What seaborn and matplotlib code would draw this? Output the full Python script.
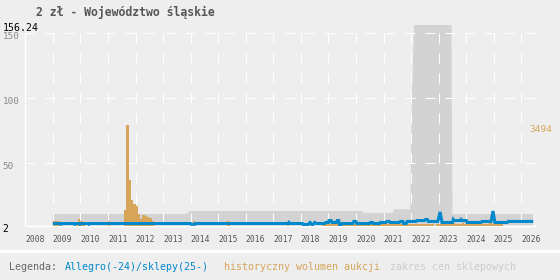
import numpy as np
import pandas as pd
import matplotlib
matplotlib.use("Agg")
import matplotlib.pyplot as plt
from matplotlib import transforms
from matplotlib.patches import Rectangle
import seaborn as sns

# ---------------- data ----------------
title = "2 zł - Województwo śląskie"
year_ticks = list(range(2008, 2027))
y_ticks = [2, 50, 100, 150]
y_max = 156.24
vol_max = 3494

# shop price range (zakres cen sklepowych): decimal year, low, high
gray_x = [2008.98, 2013.83, 2013.97, 2020.24, 2020.27, 2021.35, 2021.37, 2021.97,
          2022.00, 2022.04, 2022.07, 2022.10, 2022.13, 2023.44, 2023.47, 2023.50, 2026.42]
gray_lo = [2.0, 2.0, 2.0, 2.0, 2.0, 2.0, 2.0, 2.0,
           2.0, 2.0, 2.0, 2.0, 2.0, 2.0, 2.0, 2.0, 2.0]
gray_hi = [10.9, 10.9, 13.2, 13.2, 11.8, 11.8, 14.6, 14.6,
           68.0, 107.0, 133.0, 150.0, 400.0, 400.0, 120.0, 10.9, 10.9]

# Allegro/sklepy price line
blue_x = [2009.00, 2009.27, 2009.30, 2009.33, 2009.76, 2009.79, 2009.82, 2009.96, 2009.99,
          2010.02, 2010.28, 2010.31, 2010.34, 2013.99, 2014.02, 2014.15, 2014.18, 2017.53,
          2017.56, 2017.59, 2018.05, 2018.08, 2018.26, 2018.33, 2018.40, 2018.44, 2018.50,
          2018.57, 2018.87, 2018.90, 2019.00, 2019.02, 2019.10, 2019.13, 2019.28, 2019.32,
          2019.37, 2019.40, 2019.46, 2019.49, 2019.88, 2019.92, 2019.99, 2020.03, 2020.49,
          2020.52, 2020.60, 2020.63, 2020.85, 2020.88, 2021.08, 2021.12, 2021.20, 2021.24,
          2021.57, 2021.61, 2021.70, 2021.73, 2021.82, 2021.86, 2022.18, 2022.21, 2022.48,
          2022.52, 2022.59, 2022.62, 2022.97, 2023.05, 2023.12, 2023.50, 2023.53, 2023.56,
          2023.78, 2023.81, 2023.84, 2024.00, 2024.03, 2024.54, 2024.57, 2024.90, 2024.97,
          2025.04, 2025.49, 2025.52, 2026.43]
blue_y = [3.6, 3.6, 3.0, 3.6, 3.6, 3.0, 3.6, 3.6, 3.0,
          3.6, 3.6, 3.0, 3.6, 3.6, 3.0, 3.0, 3.6, 3.6,
          4.4, 3.6, 3.6, 2.8, 2.8, 4.4, 2.8, 2.8, 4.4,
          3.6, 3.6, 4.4, 4.4, 5.9, 5.9, 4.4, 4.4, 5.9,
          5.9, 2.8, 2.8, 3.6, 3.6, 5.2, 5.2, 3.6, 3.6,
          4.4, 4.4, 3.6, 3.6, 4.4, 4.4, 5.2, 5.2, 4.4,
          4.4, 5.2, 5.2, 3.6, 3.6, 5.2, 5.2, 5.9, 5.9,
          6.7, 6.7, 5.2, 5.2, 12.5, 4.4, 4.4, 6.7, 5.9,
          5.9, 6.7, 5.9, 5.9, 4.4, 4.4, 5.2, 5.2, 13.2,
          4.4, 4.4, 5.2, 5.2]

# historical auction volume (monthly)
vol_months = ["2009-01", "2009-02", "2009-03", "2009-11", "2009-12", "2010-01", "2010-02",
              "2011-01", "2011-08", "2011-09", "2011-10", "2011-11", "2011-12", "2012-01",
              "2012-02", "2012-03", "2012-04", "2012-05", "2012-06", "2012-07", "2012-08",
              "2014-02", "2015-05", "2017-07", "2018-04",
              "2018-10", "2018-11", "2018-12", "2019-01", "2019-02", "2019-03", "2019-04",
              "2019-05", "2019-06", "2019-07", "2019-08", "2019-09", "2019-10", "2019-11",
              "2019-12", "2020-01", "2020-02", "2020-03", "2020-04", "2020-05", "2020-06",
              "2020-07", "2020-08", "2020-09", "2020-10", "2020-11", "2020-12", "2021-01",
              "2021-02", "2021-03", "2021-04", "2021-05", "2021-06", "2021-07", "2021-08",
              "2021-09", "2021-10", "2021-11", "2021-12", "2022-01", "2022-02", "2022-03",
              "2022-04", "2022-05", "2022-06", "2022-07", "2022-08", "2022-09", "2022-10",
              "2022-12", "2023-01", "2023-02", "2023-03", "2023-04", "2023-05", "2023-06",
              "2023-07", "2023-08", "2023-09", "2023-10", "2023-11", "2023-12", "2024-01",
              "2024-02", "2024-03", "2024-04", "2024-05", "2024-06", "2024-07", "2024-08",
              "2024-09", "2024-10", "2024-11", "2024-12", "2025-01", "2025-02", "2025-03",
              "2025-04"]
vol_values = [170, 170, 165, 120, 230, 160, 100,
              170, 542, 3494, 1584, 889, 750, 681,
              403, 229, 368, 333, 299, 280, 160,
              170, 160, 60, 60,
              55, 55, 60, 55, 55, 60, 55,
              55, 55, 60, 55, 55, 55, 60,
              55, 55, 55, 60, 55, 55, 55,
              60, 55, 55, 55, 60, 55, 55,
              55, 60, 55, 55, 55, 60, 55,
              55, 55, 60, 55, 55, 55, 60,
              55, 55, 55, 60, 55, 55, 55,
              70, 70, 70, 75, 70, 70, 70,
              75, 70, 70, 70, 75, 70, 70,
              70, 75, 70, 70, 70, 75, 70,
              70, 70, 75, 70, 70, 70, 75,
              70]

legend_items = [("Legenda:", "#666666"),
                ("Allegro(-24)/sklepy(25-)", "#0088cc"),
                ("historyczny wolumen aukcji", "#d6a55a"),
                ("zakres cen sklepowych", "#cccccc")]

# ---------------- style ----------------
BG = "#eeeeee"
BLUE = "#0088cc"
ORANGE = "#d6a55a"
GRAY = "#d3d3d3"
plt.rcParams["font.family"] = ["DejaVu Sans Mono", "DejaVu Sans"]

W, H = 560, 280
L, R, T, B = 25.3, 536.0, 25.2, 225.6
x_left = 2008.0
x_right = 2008.0 + (R - L) / 27.56

fig = plt.figure(figsize=(W / 100, H / 100), dpi=100, facecolor=BG)
ax = fig.add_axes([L / W, 1 - B / H, (R - L) / W, (B - T) / H])
ax.set_xlim(x_left, x_right)
ax.set_ylim(y_ticks[0], y_max)
ax.set_axis_off()

# price range band
ax.fill_between(gray_x, gray_lo, gray_hi, color=GRAY, linewidth=0, zorder=1)

# grid
dash = (0, (10, 10))
ax.hlines(y_ticks[1:], x_left, x_right, colors="white", linewidth=0.72,
          linestyles=[dash], zorder=2)
ax.vlines(year_ticks[1:], y_ticks[-1], y_ticks[0], colors="white", linewidth=0.72,
          linestyles=[dash], zorder=2)
ax.hlines(y_ticks[0], x_left, x_right, colors="white", linewidth=1.0, zorder=2, clip_on=False)
ax.vlines(x_left, y_ticks[0], y_ticks[-1], colors="white", linewidth=1.0, zorder=2, clip_on=False)

# volume bars
ax_vol = ax.twinx()
ax_vol.set_axis_off()
vol_df = pd.DataFrame({
    "t": [int(s[:4]) + (int(s[5:]) - 0.5) / 12 for s in vol_months],
    "vol": vol_values,
})
edges = [m / 12 for m in range(2009 * 12, 2025 * 12 + 5)]
sns.histplot(data=vol_df, x="t", weights="vol", bins=edges, ax=ax_vol, color=ORANGE,
             alpha=1, linewidth=0, stat="count")
ax_vol.set_ylim(0, vol_max * (B - T) / 100.6)
ax_vol.set_xlim(x_left, x_right)

# price line
ax_line = ax.twinx()
ax_line.set_axis_off()
sns.lineplot(x=blue_x, y=blue_y, ax=ax_line, color=BLUE, linewidth=2.2,
             sort=False, estimator=None)
ax_line.set_ylim(y_ticks[0], y_max)
ax_line.set_xlim(x_left, x_right)
for ln in ax_line.lines:
    ln.set_solid_joinstyle("miter")
    ln.set_solid_capstyle("butt")

# y labels
off = transforms.ScaledTranslation(0, -3.3 / 100, fig.dpi_scale_trans)
ytr = transforms.blended_transform_factory(fig.transFigure, ax.transData) + off
for v in y_ticks:
    col = "black" if v == y_ticks[0] else "#888888"
    fs = 7.1 if v == y_ticks[0] else 6.7
    ax.text(2.7 / W, v, str(v), transform=ytr, ha="left", va="center",
            fontsize=fs, color=col)
ax.text(2.7 / W, y_max, f"{y_max:.2f}", transform=ytr, ha="left", va="center",
        fontsize=7.1, color="black")

# x labels
xtr = transforms.blended_transform_factory(ax.transData, fig.transFigure)
for yr in year_ticks:
    ax.text(yr, 1 - 239 / H, str(yr), transform=xtr, ha="left", va="center",
            fontsize=5.8, color="#555555")

# volume max label
vtr = transforms.blended_transform_factory(fig.transFigure, ax_vol.transData) + \
    transforms.ScaledTranslation(0, -4 / 100, fig.dpi_scale_trans)
ax_vol.text(552.7 / W, vol_max, str(vol_max), transform=vtr, ha="right", va="center",
            fontsize=6.8, color=ORANGE)

# title
fig.text(125.5 / W, 1 - 12.7 / H, title, ha="center", va="center", fontsize=8.3,
         fontweight="bold", color="#555555")

# separator + legend
fig.patches.append(Rectangle((0, 1 - 253.3 / H), 1, 3.3 / H, transform=fig.transFigure,
                             facecolor="white", edgecolor="none"))
leg_x = [9.3, 65.0, 224.0, 390.0]
for (txt, col), lx in zip(legend_items, leg_x):
    fig.text(lx / W, 1 - 267.5 / H, txt, ha="left", va="center", fontsize=7.2, color=col)

fig.savefig("out.png", dpi=100, facecolor=BG)
